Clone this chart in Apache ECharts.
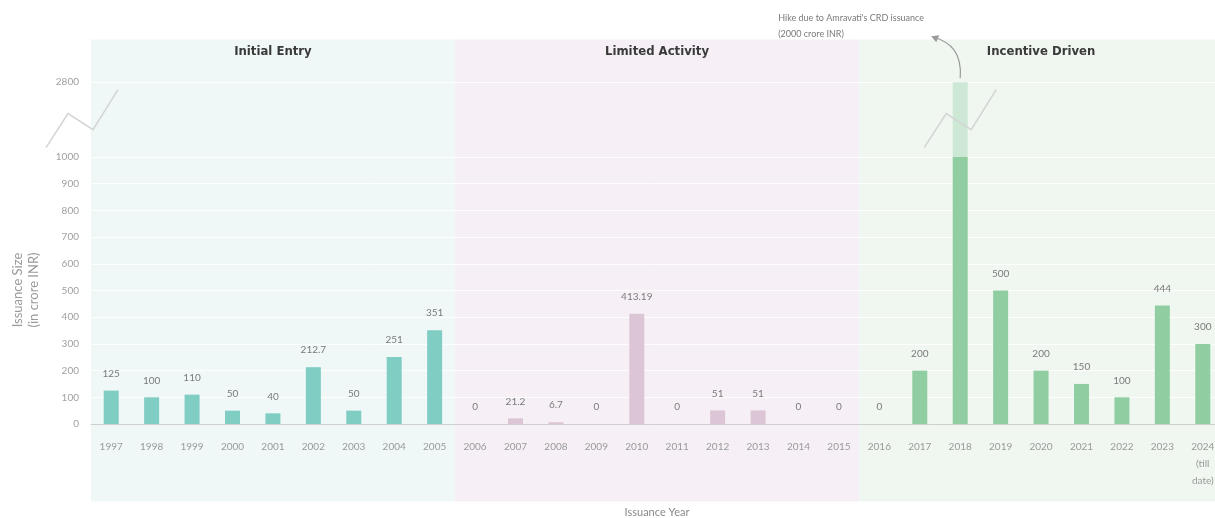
<!DOCTYPE html>
<html><head><meta charset="utf-8">
<script src="https://cdn.jsdelivr.net/npm/echarts@6/dist/echarts.min.js"></script>
<style>html,body{margin:0;padding:0;background:#fff}#c{width:1215px;height:518px}</style>
</head><body><div id="c"></div>
<script>
// ---- data ----
const years = ['1997','1998','1999','2000','2001','2002','2003','2004','2005','2006','2007','2008','2009','2010','2011','2012','2013','2014','2015','2016','2017','2018','2019','2020','2021','2022','2023','2024'];
const xLabels = ['1997','1998','1999','2000','2001','2002','2003','2004','2005','2006','2007','2008','2009','2010','2011','2012','2013','2014','2015','2016','2017','2018','2019','2020','2021','2022','2023','2024\n(till\ndate)'];
const values = [125,100,110,50,40,212.7,50,251,351,0,21.2,6.7,0,413.19,0,51,51,0,0,0,200,2000,500,200,150,100,444,300];
const valueLabels = ['125','100','110','50','40','212.7','50','251','351','0','21.2','6.7','0','413.19','0','51','51','0','0','0','200','','500','200','150','100','444','300'];
const eraNames = ['Initial Entry','Limited Activity','Incentive Driven'];
const eraStart = ['1997','2006','2016'];
const eraEnd = ['2005','2015','2024'];
const yTicks = [0,100,200,300,400,500,600,700,800,900,1000];
const breakTickLabel = '2800';
const annotationText = "Hike due to Amravati's CRD issuance\n(2000 crore INR)";

// ---- axis-break layout (display scale) ----
const BREAK_AT = 1000;
const TOP_DISPLAY = 1280;
const Y_MAX = 1440;

const barColors = ['#80cdc4','#dcc6d6','#90cea2'];
const overColor = '#cde9d6';
const bgColors = ['#eff7f7','#f6f0f6','#eff7f0'];

function eraOf(i){ const y=+years[i]; return y<=2005?0:(y<=2015?1:2); }

const mainData = values.map((v,i)=>({value: Math.min(v,BREAK_AT), itemStyle:{color: barColors[eraOf(i)]}}));
const overData = values.map(v=> v>BREAK_AT ? TOP_DISPLAY-BREAK_AT : '-');
const tickVals = yTicks.concat([TOP_DISPLAY]);

const font = 'Lato, "Open Sans", sans-serif';
const chart = echarts.init(document.getElementById('c'));
const option = {
  animation:false,
  backgroundColor:'#fff',
  grid:[
    {left:91, top:39.5, width:1132, height:384.5, containLabel:false, outerBoundsMode:'none'},
    {left:91, top:39.5, width:1132, height:462, containLabel:false, outerBoundsMode:'none'}
  ],
  xAxis:[{
    type:'category', data: years, gridIndex:0, z:5,
    axisLine:{lineStyle:{color:'#cfcfcf'}},
    axisTick:{show:false},
    axisLabel:{color:'#9a9a9a', fontSize:10, fontFamily:font, margin:14, lineHeight:17,
      formatter:(v,i)=>xLabels[i]},
    name:'Issuance Year', nameLocation:'middle', nameGap:83,
    nameTextStyle:{color:'#8a8a8a', fontSize:11, fontFamily:font}
  },{
    type:'value', gridIndex:1, min:-0.5, max:years.length-0.5, show:false
  }],
  yAxis:[{
    type:'value', gridIndex:0, min:0, max:Y_MAX, z:1,
    axisLine:{show:false},
    axisTick:{show:false, customValues: tickVals},
    axisLabel:{customValues: tickVals, color:'#a0a0a0', fontSize:10, fontFamily:font, margin:12,
      formatter:v=> v===TOP_DISPLAY ? breakTickLabel : String(v)},
    splitLine:{show:true, lineStyle:{color:'rgba(255,255,255,0.85)', width:1}}
  },{
    type:'value', gridIndex:1, min:0, max:1, show:false
  }],
  series:[
    {type:'line', data:[], xAxisIndex:1, yAxisIndex:1, z:-1, silent:true,
     markArea:{silent:true, z:-10, zlevel:0,
       data: eraNames.map((n,k)=>[
         {name:n, xAxis:years.indexOf(eraStart[k])-0.5, yAxis:0, itemStyle:{color:bgColors[k]}},
         {xAxis:years.indexOf(eraEnd[k])+0.5, yAxis:1}]),
       label:{show:true, position:'insideTop', distance:6, color:'#3a3a3a', fontSize:13, fontWeight:'bold',
         fontFamily:'"Liberation Sans Narrow","DejaVu Sans Condensed",sans-serif'}
     }},
    {type:'bar', name:'main', stack:'s', data: mainData, barWidth:15, z:3,
     label:{show:true, position:'top', distance:12, color:'#7a7a7a', fontSize:10, fontFamily:font,
       formatter:p=>valueLabels[p.dataIndex]}},
    {type:'bar', name:'over', stack:'s', data: overData, barWidth:15, z:3, itemStyle:{color:overColor}}
  ]
};
chart.setOption(option);

// ---- decorations positioned from the axes ----
const brkY = 1140;
const idx18 = years.indexOf('2018');
const pBar = chart.convertToPixel({xAxisIndex:0, yAxisIndex:0}, [idx18, brkY]);
const pAxis = chart.convertToPixel({xAxisIndex:0, yAxisIndex:0}, [0, brkY]);
const leftX = 82;
function zig(cx, cy){
  return {type:'polyline', silent:true, shape:{points:[[cx-36,cy+28],[cx-14,cy-6],[cx+11,cy+10],[cx+36,cy-30]]},
    style:{stroke:'#d4d4d4', lineWidth:1.5, fill:null}, z:100};
}
const pTop = chart.convertToPixel({xAxisIndex:0, yAxisIndex:0}, [idx18, TOP_DISPLAY]);
const ax = pTop[0]-28, ay = pTop[1]-46;
chart.setOption({graphic:[
  zig(leftX, pAxis[1]),
  zig(pBar[0], pBar[1]),
  {type:'bezierCurve', silent:true, shape:{x1:pTop[0], y1:pTop[1]-4, x2:ax+2, y2:ay+1, cpx1:pTop[0]+2, cpy1:pTop[1]-30, cpx2:pTop[0]-10, cpy2:ay+6},
   style:{stroke:'#9a9a9a', lineWidth:1.2, fill:null}, z:100},
  {type:'polygon', silent:true, shape:{points:[[ax-1,ay],[ax+7,ay-1],[ax+4,ay+6]]}, style:{fill:'#9a9a9a'}, z:100},
  {type:'text', silent:true, left:pTop[0]-182, top:10, style:{text:annotationText, fill:'#7a7a7a', fontSize:9, lineHeight:16, fontFamily:font}, z:100},
  {type:'text', silent:true, x:26, y:290, rotation:Math.PI/2,
   style:{text:'Issuance Size\n(in crore INR)', fill:'#9a9a9a', fontSize:13, lineHeight:16, fontFamily:font, align:'center', verticalAlign:'middle'}, z:100}
]});
</script></body></html>
